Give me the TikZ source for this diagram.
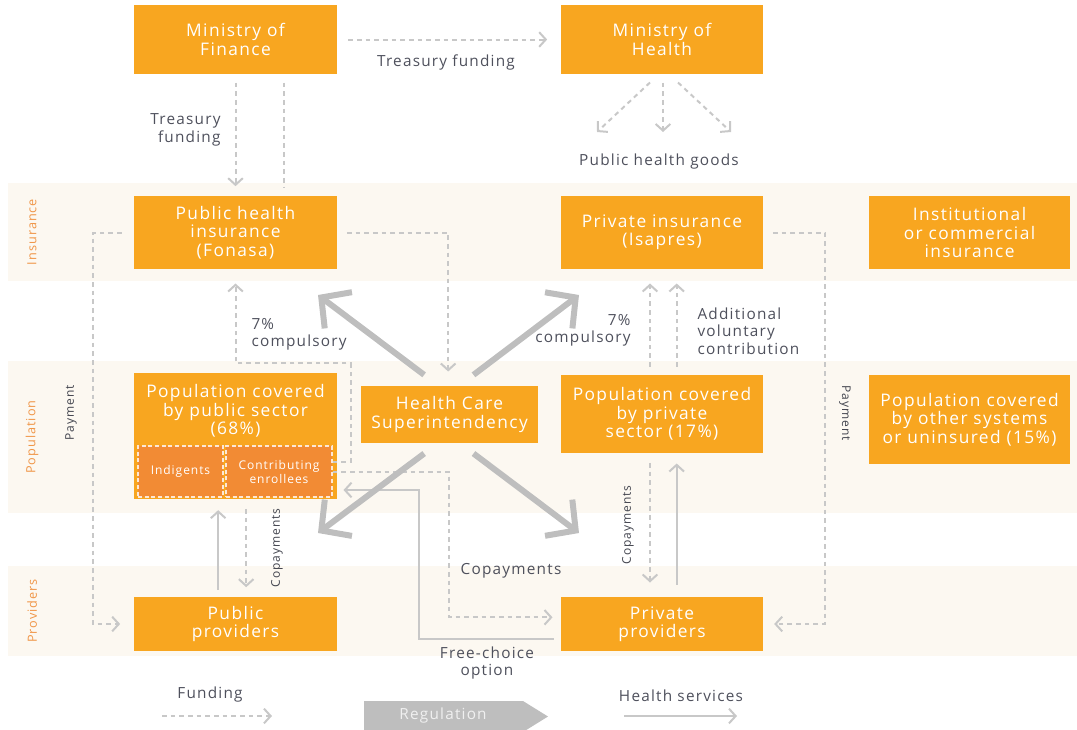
\documentclass[tikz,border=0pt]{standalone}
\usepackage{fontspec}
\setmainfont{Open Sans}[LetterSpace=8]
\usetikzlibrary{arrows.meta}

\definecolor{boxorange}{RGB}{248,166,32}
\definecolor{innerorange}{RGB}{242,139,52}
\definecolor{bandcream}{RGB}{252,248,241}
\definecolor{sideorange}{RGB}{240,150,72}
\definecolor{flowgray}{RGB}{200,200,200}
\definecolor{reggray}{RGB}{190,190,190}
\definecolor{labelgray}{RGB}{78,80,92}

\tikzset{every picture/.style={line width=0.75pt}}
\tikzset{
  box/.style={fill=boxorange, text=white, inner sep=0pt, align=center, minimum width=152pt, font=\fontsize{13}{13.8}\selectfont},
  subbox/.style={fill=innerorange, draw=white!80!innerorange, dash pattern=on 3pt off 2pt, line width=1pt, text=white, inner sep=0pt, align=center, minimum height=38.25pt, font=\fontsize{9}{10.5}\selectfont},
  lbl/.style={text=labelgray, inner sep=0.75pt, font=\fontsize{11.5}{13}\selectfont},
  vlbl/.style={text=labelgray!85!black, inner sep=0.75pt, font=\fontsize{9}{10.5}\selectfont},
  side/.style={text=sideorange, rotate=90, inner sep=0.75pt, font=\fontsize{9.5}{10.5}\selectfont},
  fund/.style={draw=flowgray, line width=1.5pt, dash pattern=on 3.5pt off 3pt, -{Straight Barb[length=5pt,width=11pt]}},
  serv/.style={draw=flowgray, line width=1.5pt, -{Straight Barb[length=5pt,width=11pt]}},
  reg/.style={draw=reggray, line width=4.5pt, -{Straight Barb[length=16pt,width=34pt]}},
}

\begin{document}
\begin{tikzpicture}[x=0.75pt,y=0.75pt,yscale=-1,xscale=1]
\useasboundingbox (0,0) rectangle (1077,729);

%Shape: Rectangle (row bands)
\fill [bandcream] (8,183) rectangle (1077,281);
\fill [bandcream] (8,361) rectangle (1077,513);
\fill [bandcream] (8,566) rectangle (1077,656);

% Text Node
\draw (32,232) node [side] (sideins) {Insurance};
% Text Node
\draw (32,437) node [side] (sidepop) {Population};
% Text Node
\draw (32,611) node [side] (sideprov) {Providers};

%Shape: Rectangle
\draw (235.5,39.5) node [box, minimum width=152.25pt, minimum height=51.75pt] (mof) {Ministry of\\Finance};
%Shape: Rectangle
\draw (662,39.5) node [box, minimum width=151.5pt, minimum height=51.75pt] (moh) {Ministry of\\Health};
%Shape: Rectangle
\draw (235.5,232.5) node [box, minimum width=152.25pt, minimum height=54.75pt] (fonasa) {Public health\\insurance\\(Fonasa)};
%Shape: Rectangle
\draw (662,232.5) node [box, minimum width=151.5pt, minimum height=54.75pt] (isapres) {Private insurance\\(Isapres)};
%Shape: Rectangle
\draw (969.5,232.5) node [box, minimum width=150.75pt, minimum height=54.75pt] (inst) {Institutional\\or commercial\\insurance};
%Shape: Rectangle
\draw (235.5,436) node [box, minimum width=152.25pt, minimum height=94.5pt] (poppub) {};
% Text Node
\draw (235.5,384) node [box, anchor=north, fill=none, minimum width=0pt] (poppubtxt) {Population covered\\by public sector\\(68\%)};
%Shape: Rectangle
\draw (180.5,471.5) node [subbox, minimum width=63.75pt] (indig) {Indigents};
%Shape: Rectangle
\draw (279,471.5) node [subbox, minimum width=79.5pt] (contrib) {Contributing\\enrollees};
%Shape: Rectangle
\draw (449.5,414.5) node [box, minimum width=132.75pt, minimum height=42.75pt] (hcs) {Health Care\\Superintendency};
%Shape: Rectangle
\draw (662,414) node [box, minimum width=151.5pt, minimum height=58.5pt] (poppriv) {Population covered\\by private\\sector (17\%)};
%Shape: Rectangle
\draw (969.5,419.5) node [box, minimum width=150.75pt, minimum height=66.75pt] (popoth) {Population covered\\by other systems\\or uninsured (15\%)};
%Shape: Rectangle
\draw (235.5,624) node [box, minimum width=152.25pt, minimum height=40.5pt] (pubprov) {Public\\providers};
%Shape: Rectangle
\draw (662,624) node [box, minimum width=151.5pt, minimum height=40.5pt] (privprov) {Private\\providers};

%Straight Lines
\draw [fund, shorten <=8pt, shorten >=10pt] (mof.east) -- (moh.west);
% Text Node
\draw (446,62) node [lbl] (lbltreash) {Treasury funding};

%Straight Lines
\draw [fund, shorten <=6pt, shorten >=7pt] (mof.south) -- (fonasa.north);
\draw [fund, -, shorten <=6pt, shorten >=6pt] ([xshift=36pt]mof.south) -- ([xshift=36pt]fonasa.north);
% Text Node
\draw (222,130) node [lbl, anchor=east, align=right] (lbltreasv) {Treasury\\funding};

%Straight Lines
\coordinate (phgL) at (597,132);
\coordinate (phgM) at (663,132);
\coordinate (phgR) at (731,132);
\draw [fund] ([xshift=-9pt,yshift=6pt]moh.south) -- (phgL);
\draw [fund] ([xshift=0.75pt,yshift=6pt]moh.south) -- (phgM);
\draw [fund] ([xshift=12pt,yshift=6pt]moh.south) -- (phgR);
% Text Node
\draw (659,162) node [lbl] (lblphg) {Public health goods};

%Straight Lines
\draw [fund, shorten <=9pt, shorten >=10pt] (fonasa.west) -| (93,430) |- (pubprov.west);
% Text Node
\draw (71,413) node [vlbl, rotate=90] (lblpayl) {Payment};

%Straight Lines
\draw [fund, shorten <=7pt, shorten >=10.5pt] (fonasa.east) -| ([xshift=-1pt]hcs.north);

%Straight Lines
\draw [fund, shorten >=10.5pt] ([yshift=-7pt]contrib.east) -- ++(18,0) -- ++(0,-99) -| (fonasa.south);
% Text Node
\draw (250,334) node [lbl, anchor=west, align=left] (lblcompl) {7\%\\compulsory};

%Straight Lines
\draw [fund, shorten >=6pt] (contrib.east) -- (449,471.5) |- ([yshift=-5pt]privprov.west);
% Text Node
\draw (511,571) node [lbl] (lblcopay) {Copayments};

%Straight Lines
\draw [serv, shorten <=5pt, shorten >=4.5pt] ([yshift=11pt]privprov.west) -| (419,490) -- ([yshift=40.5pt]poppub.east);
% Text Node
\draw (487,663) node [lbl, align=center] (lblfree) {Free-choice\\option};

%Straight Lines
\draw [serv, shorten <=5pt, shorten >=8pt] ([xshift=-13pt]pubprov.north) -- ([xshift=-13pt]poppub.south);
\draw [fund, shorten <=7pt, shorten >=7pt] ([xshift=8pt]poppub.south) -- ([xshift=8pt]pubprov.north);
% Text Node
\draw (277,548) node [vlbl, rotate=90] (lblcopayl) {Copayments};

%Straight Lines
\draw [fund, shorten <=7pt, shorten >=10.5pt] ([xshift=-9pt]poppriv.south) -- ([xshift=-9pt]privprov.north);
\draw [serv, shorten <=9pt, shorten >=7.5pt] ([xshift=11pt]privprov.north) -- ([xshift=11pt]poppriv.south);
% Text Node
\draw (628,525) node [vlbl, rotate=90] (lblcopayr) {Copayments};

%Straight Lines
\draw [fund, shorten <=6pt, shorten >=10.5pt] ([xshift=-9pt]poppriv.north) -- ([xshift=-9pt]isapres.south);
\draw [fund, shorten <=6pt, shorten >=10.5pt] ([xshift=11pt]poppriv.north) -- ([xshift=11pt]isapres.south);
% Text Node
\draw (632,330) node [lbl, anchor=east, align=right] (lblcompr) {7\%\\compulsory};
% Text Node
\draw (696,331) node [lbl, anchor=west, align=left] (lbladd) {Additional\\voluntary\\contribution};

%Straight Lines
\draw [fund, shorten <=7pt, shorten >=8pt] (isapres.east) -| (825,430) |- (privprov.east);
% Text Node
\draw (845,413) node [vlbl, rotate=-90] (lblpayr) {Payment};

%Regulation arrows
\coordinate (regNW) at (318,295);
\coordinate (regNE) at (579,295);
\coordinate (regSW) at (318,533);
\coordinate (regSE) at (579,533);
\draw [reg] ([xshift=-19pt,yshift=-8pt]hcs.north) -- (regNW);
\draw [reg] ([xshift=18pt,yshift=-8pt]hcs.north) -- (regNE);
\draw [reg] ([xshift=-19pt,yshift=7.5pt]hcs.south) -- (regSW);
\draw [reg] ([xshift=18pt,yshift=7.5pt]hcs.south) -- (regSE);

%Legend
\coordinate (fundA) at (162,716);
\coordinate (fundB) at (272,716);
\draw [fund] (fundA) -- (fundB);
% Text Node
\draw (210,695) node [lbl] (lblfund) {Funding};
%Shape: Polygon
\fill [reggray] (364,701) -- (523,701) -- (548,716.5) -- (523,732) -- (364,732) -- cycle;
% Text Node
\draw (443,716) node [lbl, text=white!94!black] (lblreg) {Regulation};
\coordinate (servA) at (624,716);
\coordinate (servB) at (737,716);
\draw [serv] (servA) -- (servB);
% Text Node
\draw (681,696) node [lbl] (lblserv) {Health services};

\end{tikzpicture}
\end{document}
